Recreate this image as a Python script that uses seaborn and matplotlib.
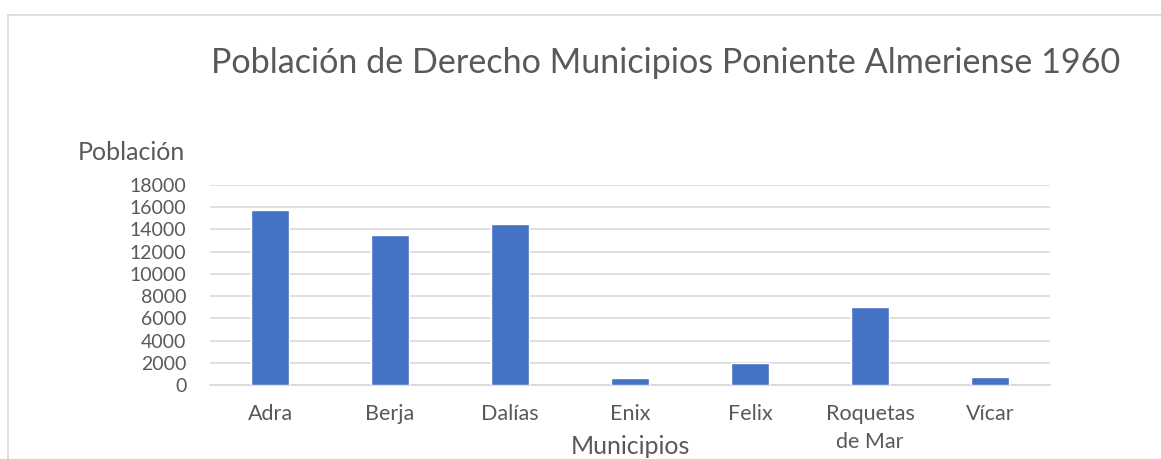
import matplotlib
matplotlib.use("Agg")
import matplotlib.pyplot as plt
import seaborn as sns
import pandas as pd
from matplotlib.lines import Line2D

municipios = ["Adra", "Berja", "Dalías", "Enix", "Felix", "Roquetas\nde Mar", "Vícar"]
poblacion = [15780, 13530, 14460, 660, 2010, 7050, 720]
yticks = [0, 2000, 4000, 6000, 8000, 10000, 12000, 14000, 16000, 18000]

title = "Población de Derecho Municipios Poniente Almeriense 1960"
xlabel = "Municipios"
ylabel = "Población"

sns.set_theme(style="white")
plt.rcParams['font.family'] = ['Lato', 'DejaVu Sans']

text_color = "#595959"
grid_color = "#D9D9D9"
bar_color = "#4472C4"

df = pd.DataFrame({"Municipio": municipios, "Poblacion": poblacion})

fig = plt.figure(figsize=(11.61, 4.59), dpi=100)
ax = fig.add_axes([210/1161, 74/459, 840/1161, 200/459])

sns.barplot(data=df, x="Municipio", y="Poblacion", color=bar_color,
            width=0.31, saturation=1, ax=ax, zorder=3)

ax.set_ylim(0, 18000)
ax.set_yticks(yticks)
ax.set_yticklabels([str(v) for v in yticks])
ax.yaxis.grid(True, color=grid_color, linewidth=1.2, zorder=0)
ax.xaxis.grid(False)
for s in ["top", "right", "left"]:
    ax.spines[s].set_visible(False)
ax.spines["bottom"].set_color(grid_color)
ax.spines["bottom"].set_linewidth(1.2)
ax.tick_params(axis="both", length=0, labelcolor=text_color)
ax.tick_params(axis="y", labelsize=14, pad=17)
ax.tick_params(axis="x", labelsize=15.5, pad=14)
for lbl in ax.get_xticklabels():
    lbl.set_linespacing(1.45)
ax.set_xlabel("")
ax.set_ylabel("")

fig.text(666/1161, 1 - 63/459, title, ha="center", va="center",
         fontsize=24.6, color=text_color)
fig.text(185/1161, 1 - 152/459, ylabel, ha="right", va="center",
         fontsize=18, color=text_color)
fig.text(630/1161, 1 - 447/459, xlabel, ha="center", va="center",
         fontsize=18, color=text_color)

fig.add_artist(Line2D([8/1161, 8/1161], [0, 1 - 15/459], transform=fig.transFigure,
                      color=grid_color, linewidth=1.2))
fig.add_artist(Line2D([8/1161, 1], [1 - 15/459, 1 - 15/459], transform=fig.transFigure,
                      color=grid_color, linewidth=1.2))

fig.savefig("out.png", dpi=100, facecolor="white")
